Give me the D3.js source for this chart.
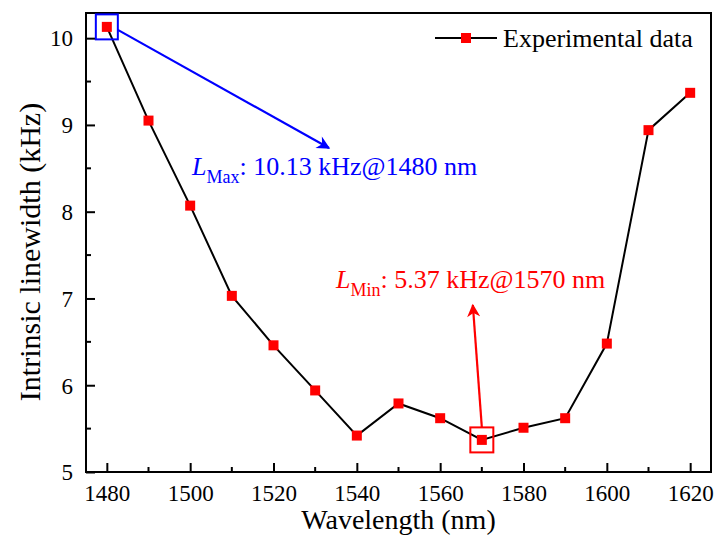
<!DOCTYPE html>
<html>
<head>
<meta charset="utf-8">
<script src="https://cdnjs.cloudflare.com/ajax/libs/d3/7.8.5/d3.min.js"></script>
<style>
  body { margin: 0; background: #fff; }
  svg text { font-family: "Liberation Serif", "Times New Roman", serif; }
</style>
</head>
<body>
<div id="chart"></div>
<script>
// wavelength (nm) and intrinsic linewidth (kHz)
var wavelengths = [1480, 1490, 1500, 1510, 1520, 1530, 1540, 1550, 1560, 1570, 1580, 1590, 1600, 1610, 1620];
var linewidths = [10.13, 9.05, 8.07, 7.03, 6.46, 5.94, 5.42, 5.79, 5.62, 5.37, 5.51, 5.62, 6.48, 8.94, 9.37];
var xTicks = [1480, 1500, 1520, 1540, 1560, 1580, 1600, 1620];
var yTicks = [5, 6, 7, 8, 9, 10];

var width = 717, height = 537;
var margin = {top: 13, right: 6, bottom: 65, left: 86};
var w = width - margin.left - margin.right;
var h = height - margin.top - margin.bottom;

var svg = d3.select("#chart").append("svg").attr("width", width).attr("height", height);
var g = svg.append("g").attr("transform", "translate(" + margin.left + "," + margin.top + ")");

var x = d3.scaleLinear().domain([1475, 1625]).range([0, w]);
var y = d3.scaleLinear().domain([5, 10.29]).range([h, 0]);

var data = wavelengths.map(function(d, i) { return {wl: d, lw: linewidths[i]}; });

// arrow heads
var defs = svg.append("defs");
[["blueHead", "#0000ff"], ["redHead", "#ff0000"]].forEach(function(m) {
  defs.append("marker")
    .attr("id", m[0])
    .attr("viewBox", "0 0 10 10")
    .attr("refX", 9).attr("refY", 5)
    .attr("markerWidth", 7).attr("markerHeight", 6)
    .attr("markerUnits", "strokeWidth")
    .attr("orient", "auto")
    .append("path")
    .attr("d", "M0,0 L10,5 L0,10 L3,5 Z")
    .attr("fill", m[1]);
});

// minor ticks
var xMinor = d3.range(1490, 1620, 20);
var yMinor = d3.range(5.5, 10.5, 1);

g.selectAll(".xminor").data(xMinor).enter().append("line")
  .attr("x1", function(d) { return x(d); }).attr("x2", function(d) { return x(d); })
  .attr("y1", h).attr("y2", h - 5)
  .attr("stroke", "#000").attr("stroke-width", 2);
g.selectAll(".yminor").data(yMinor).enter().append("line")
  .attr("x1", 0).attr("x2", 5)
  .attr("y1", function(d) { return y(d); }).attr("y2", function(d) { return y(d); })
  .attr("stroke", "#000").attr("stroke-width", 2);

// axes
var xAxis = g.append("g")
  .attr("transform", "translate(0," + h + ")")
  .call(d3.axisBottom(x).tickValues(xTicks).tickSize(-9).tickPadding(13).tickFormat(d3.format("d")));
var yAxis = g.append("g")
  .call(d3.axisLeft(y).tickValues(yTicks).tickSize(-9).tickPadding(13).tickFormat(d3.format("d")));

[xAxis, yAxis].forEach(function(a) {
  a.attr("font-family", null);
  a.select(".domain").remove();
  a.selectAll("line").attr("stroke", "#000").attr("stroke-width", 2);
  a.selectAll("text").attr("font-size", 23).attr("fill", "#000");
});
xAxis.selectAll("text").attr("dy", "0.71em");
yAxis.selectAll("text").attr("dy", "0.34em");

// frame
g.append("rect").attr("x", 0).attr("y", 0).attr("width", w).attr("height", h)
  .attr("fill", "none").attr("stroke", "#000").attr("stroke-width", 2);

// data line + markers
var line = d3.line().x(function(d) { return x(d.wl); }).y(function(d) { return y(d.lw); });
g.append("path").datum(data)
  .attr("fill", "none").attr("stroke", "#000").attr("stroke-width", 2)
  .attr("d", line);
g.selectAll(".pt").data(data).enter().append("rect")
  .attr("x", function(d) { return x(d.wl) - 5; })
  .attr("y", function(d) { return y(d.lw) - 5; })
  .attr("width", 10).attr("height", 10)
  .attr("fill", "#ff0000");

// max annotation
var maxPt = data[0];
g.append("rect")
  .attr("x", x(maxPt.wl) - 11).attr("y", y(maxPt.lw) - 12.5)
  .attr("width", 22).attr("height", 25)
  .attr("fill", "none").attr("stroke", "#0000ff").attr("stroke-width", 2);
g.append("line")
  .attr("x1", x(maxPt.wl) + 11).attr("y1", y(maxPt.lw) + 3)
  .attr("x2", 243).attr("y2", 135)
  .attr("stroke", "#0000ff").attr("stroke-width", 2.2)
  .attr("marker-end", "url(#blueHead)");
var tMax = g.append("text").attr("x", 106).attr("y", 162).attr("fill", "#0000ff").attr("font-size", 26);
tMax.append("tspan").attr("font-style", "italic").text("L");
tMax.append("tspan").attr("font-size", 18).attr("dy", 8).text("Max");
tMax.append("tspan").attr("dy", -8).text(": 10.13 kHz@1480 nm");

// min annotation
var minPt = data[9];
g.append("rect")
  .attr("x", x(minPt.wl) - 11.5).attr("y", y(minPt.lw) - 12.5)
  .attr("width", 23).attr("height", 25)
  .attr("fill", "none").attr("stroke", "#ff0000").attr("stroke-width", 2);
g.append("line")
  .attr("x1", x(minPt.wl)).attr("y1", y(minPt.lw) - 12.5)
  .attr("x2", x(minPt.wl) - 9).attr("y2", 292)
  .attr("stroke", "#ff0000").attr("stroke-width", 2.2)
  .attr("marker-end", "url(#redHead)");
var tMin = g.append("text").attr("x", 250).attr("y", 275).attr("fill", "#ff0000").attr("font-size", 26);
tMin.append("tspan").attr("font-style", "italic").text("L");
tMin.append("tspan").attr("font-size", 18).attr("dy", 8).text("Min");
tMin.append("tspan").attr("dy", -8).text(": 5.37 kHz@1570 nm");

// legend
var ly = 25;
g.append("line").attr("x1", 349).attr("x2", 411).attr("y1", ly).attr("y2", ly)
  .attr("stroke", "#000").attr("stroke-width", 2);
g.append("rect").attr("x", 375).attr("y", ly - 5).attr("width", 10).attr("height", 10).attr("fill", "#ff0000");
g.append("text").attr("x", 417).attr("y", ly + 9).attr("font-size", 26).attr("fill", "#000")
  .text("Experimental data");

// axis titles
svg.append("text")
  .attr("x", margin.left + w / 2).attr("y", 529)
  .attr("text-anchor", "middle").attr("font-size", 28).attr("fill", "#000")
  .text("Wavelength (nm)");
svg.append("text")
  .attr("transform", "translate(40,252) rotate(-90)")
  .attr("text-anchor", "middle").attr("font-size", 30).attr("fill", "#000")
  .text("Intrinsic linewidth (kHz)");
</script>
</body>
</html>
